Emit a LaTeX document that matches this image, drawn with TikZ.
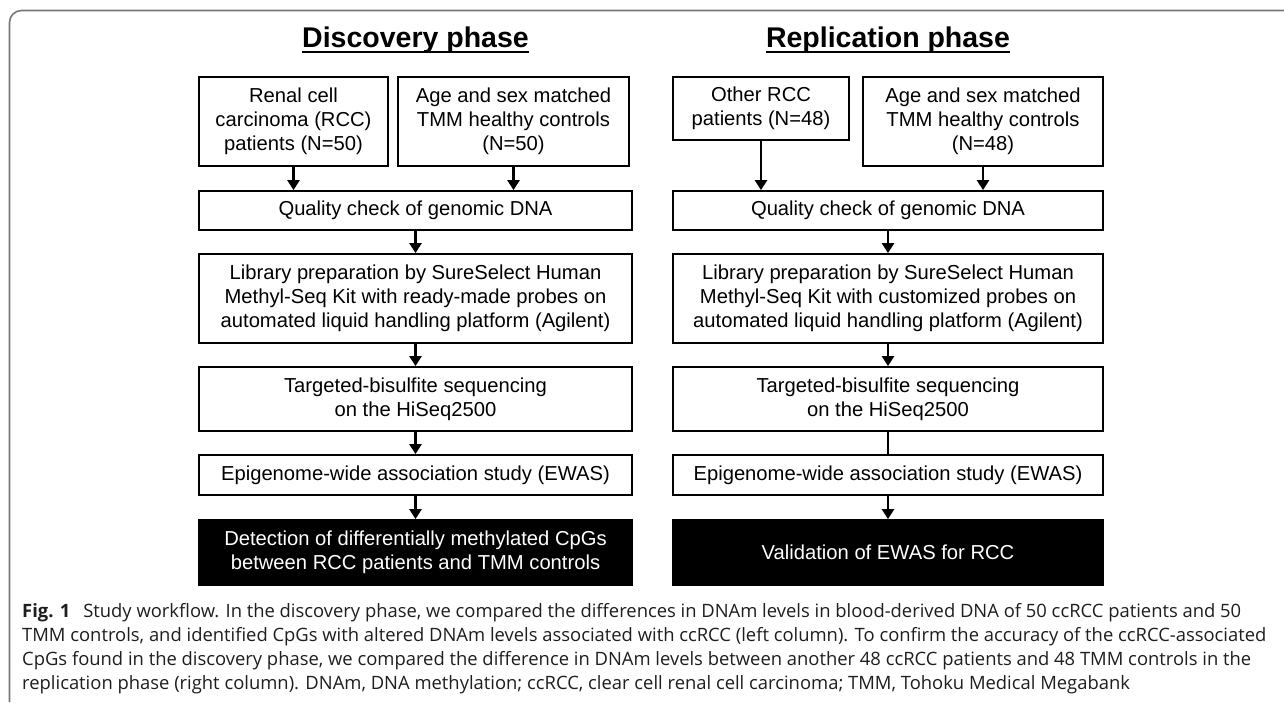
\documentclass[tikz,border=0pt]{standalone}
\usepackage{fontspec}
\setmainfont{Liberation Sans}
\newfontfamily\capfont{Open Sans}
\usetikzlibrary{arrows.meta}
\definecolor{framegray}{RGB}{120,120,120}
\definecolor{captextcol}{RGB}{30,30,30}
\begin{document}
\begin{tikzpicture}[x=1pt,y=-1pt,
  box/.style={draw=black, line width=1.8pt, align=center, inner sep=0pt, font=\fontsize{20.2}{24}\selectfont},
  blk/.style={box, fill=black, text=white},
  arr/.style={line width=2.6pt, -{Triangle[length=10pt,width=12pt]}},
  ln/.style={line width=2.6pt},
  ttl/.style={font=\bfseries\fontsize{28.5}{30}\selectfont, inner sep=0pt, anchor=base},
  uline/.style={line width=2pt},
  captext/.style={font=\capfont\fontsize{18.4}{24}\selectfont, text=captextcol, inner sep=0pt, anchor=base west}]
\useasboundingbox (0,0) rectangle (1284,702);
\fill[white] (0,0) rectangle (1284,702);
% frame
\draw[framegray, line width=1.6pt, rounded corners=12pt] (9.5,702) -- (9.5,10.5) -- (1284,10.5);
% titles
\node[ttl] (t1) at (415.5,47) {Discovery phase};
\draw[uline] ([yshift=-5pt]t1.base west) -- ([yshift=-5pt]t1.base east);
\node[ttl] (t2) at (888,47) {Replication phase};
\draw[uline] ([yshift=-5pt]t2.base west) -- ([yshift=-5pt]t2.base east);
% left column
\node[box, minimum width=189pt, minimum height=89pt] (a1) at (293.5,121.5) {Renal cell\\carcinoma (RCC)\\patients (N=50)};
\node[box, minimum width=231pt, minimum height=89pt] (a2) at (513.5,121.5) {Age and sex matched\\TMM healthy controls\\(N=50)};
\node[box, minimum width=433pt, minimum height=39pt] (q1) at (415.5,210.5) {Quality check of genomic DNA};
\node[box, minimum width=433pt, minimum height=89pt] (l1) at (415.5,298.5) {Library preparation by SureSelect Human\\Methyl-Seq Kit with ready-made probes on\\automated liquid handling platform (Agilent)};
\node[box, minimum width=433pt, minimum height=64pt] (s1) at (415.5,399) {Targeted-bisulfite sequencing\\on the HiSeq2500};
\node[box, minimum width=433pt, minimum height=40pt] (e1) at (415.5,475) {Epigenome-wide association study (EWAS)};
\node[blk, minimum width=433pt, minimum height=65pt] (r1) at (415.5,552.5) {Detection of differentially methylated CpGs\\between RCC patients and TMM controls};
% right column
\node[box, minimum width=176pt, minimum height=63pt] (b1) at (761,108.5) {Other RCC\\patients (N=48)};
\node[box, minimum width=240pt, minimum height=89pt] (b2) at (983,121.5) {Age and sex matched\\TMM healthy controls\\(N=48)};
\node[box, minimum width=430pt, minimum height=39pt] (q2) at (888,210.5) {Quality check of genomic DNA};
\node[box, minimum width=430pt, minimum height=89pt] (l2) at (888,298.5) {Library preparation by SureSelect Human\\Methyl-Seq Kit with customized probes on\\automated liquid handling platform (Agilent)};
\node[box, minimum width=430pt, minimum height=64pt] (s2) at (888,399) {Targeted-bisulfite sequencing\\on the HiSeq2500};
\node[box, minimum width=430pt, minimum height=40pt] (e2) at (888,475) {Epigenome-wide association study (EWAS)};
\node[blk, minimum width=430pt, minimum height=65pt] (r2) at (888,552.5) {Validation of EWAS for RCC};
% connectors left
\draw[arr] (a1.south) -- (a1.south |- q1.north);
\draw[arr] (a2.south) -- (a2.south |- q1.north);
\draw[arr] (q1.south) -- (l1.north);
\draw[arr] (l1.south) -- (s1.north);
\draw[arr] (s1.south) -- (e1.north);
\draw[arr] (e1.south) -- (r1.north);
% connectors right
\draw[arr] (b1.south) -- (b1.south |- q2.north);
\draw[arr] (b2.south) -- (b2.south |- q2.north);
\draw[arr] (q2.south) -- (l2.north);
\draw[arr] (l2.south) -- (s2.north);
\draw[ln] (s2.south) -- (e2.north);
\draw[arr] (e2.south) -- (r2.north);
% caption
\node[captext] (c1) at (22,617) {\textbf{Fig. 1}\hspace{0.7em}Study workflow. In the discovery phase, we compared the differences in DNAm levels in blood-derived DNA of 50 ccRCC patients and 50};
\node[captext] (c2) at (22,641) {TMM controls, and identified CpGs with altered DNAm levels associated with ccRCC (left column). To confirm the accuracy of the ccRCC-associated};
\node[captext] (c3) at (22,665) {CpGs found in the discovery phase, we compared the difference in DNAm levels between another 48 ccRCC patients and 48 TMM controls in the};
\node[captext] (c4) at (22,689) {replication phase (right column). DNAm, DNA methylation; ccRCC, clear cell renal cell carcinoma; TMM, Tohoku Medical Megabank};
\end{tikzpicture}
\end{document}
